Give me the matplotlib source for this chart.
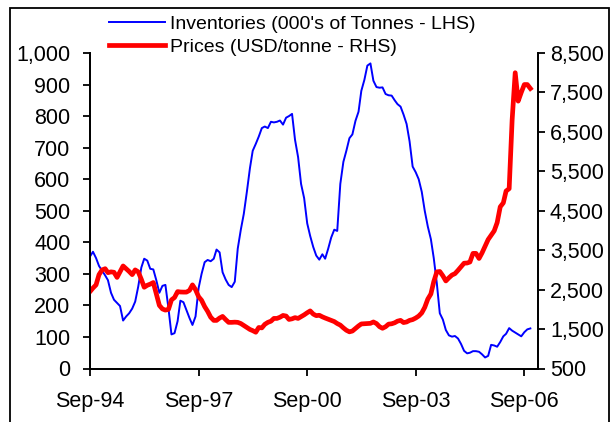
import pandas as pd
import matplotlib
matplotlib.use("Agg")
import matplotlib.pyplot as plt
import matplotlib.dates as mdates
from matplotlib.patches import Rectangle
from matplotlib.ticker import FuncFormatter, FixedLocator

# monthly, Sep-94 .. Nov-06
months = pd.date_range("1994-09-01", periods=147, freq="MS")

# inventories, 000's of tonnes (LHS)
inventories = [
    355, 370, 350, 325, 310, 295, 280, 240, 218, 208, 198, 152,
    165, 175, 190, 212, 260, 320, 348, 342, 316, 314, 280, 240,
    262, 265, 190, 108, 112, 150, 215, 210, 185, 160, 138, 165,
    255, 300, 337, 344, 340, 348, 377, 368, 305, 282, 265, 258,
    275, 380, 440, 490, 560, 635, 690, 712, 735, 762, 767, 762,
    782, 780, 782, 786, 773, 795, 800, 807, 725, 670, 585, 540,
    460, 420, 385, 358, 345, 362, 348, 380, 415, 440, 436, 585,
    655, 690, 730, 742, 785, 814, 880, 915, 960, 967, 912, 892,
    890, 891, 870, 866, 865, 850, 838, 830, 805, 775, 720, 640,
    622, 600, 560, 500, 450, 410, 350, 270, 175, 155, 122, 105,
    101, 103, 95, 78, 56, 48, 50, 55, 55, 53, 45, 35,
    40, 75, 73, 69, 84, 102, 110, 128, 120, 114, 108, 102,
    115, 124, 127,
]

# prices, USD/tonne (RHS)
prices = [
    2450, 2540, 2620, 2880, 3000, 3030, 2930, 2950, 2940, 2810, 2950, 3100,
    3030, 2960, 2880, 3000, 2950, 2760, 2560, 2610, 2640, 2680, 2400, 2100,
    2010, 1980, 2000, 2240, 2300, 2450, 2440, 2437, 2437, 2480, 2620, 2500,
    2320, 2230, 2070, 1950, 1800, 1720, 1720, 1780, 1820, 1740, 1670, 1670,
    1675, 1670, 1640, 1590, 1540, 1490, 1460, 1420, 1540, 1530, 1620, 1670,
    1700, 1770, 1770, 1800, 1845, 1830, 1744, 1760, 1790, 1770, 1815, 1860,
    1914, 1960, 1880, 1840, 1850, 1810, 1780, 1750, 1720, 1690, 1640, 1600,
    1530, 1470, 1430, 1450, 1515, 1580, 1630, 1634, 1640, 1645, 1680, 1640,
    1560, 1520, 1560, 1625, 1634, 1660, 1700, 1720, 1665, 1680, 1720, 1740,
    1780, 1830, 1910, 2050, 2260, 2390, 2700, 2950, 2960, 2850, 2720, 2800,
    2870, 2905, 2990, 3080, 3170, 3175, 3200, 3419, 3419, 3290, 3430, 3600,
    3770, 3880, 3990, 4200, 4600, 4700, 5000, 5060, 6800, 8000, 7280, 7500,
    7700, 7700, 7600,
]

left_ticks = list(range(0, 1001, 100))
right_ticks = list(range(500, 8501, 1000))
x_ticks = pd.to_datetime(["1994-09-01", "1997-09-01", "2000-09-01",
                          "2003-09-01", "2006-09-01"])

plt.rcParams["font.family"] = ["Liberation Sans", "DejaVu Sans"]

W, H = 613, 422
fig = plt.figure(figsize=(W / 100, H / 100), dpi=100)
ax = fig.add_axes([90 / W, 1 - 368.5 / H, 447.5 / W, 315.5 / H])
ax2 = ax.twinx()

l1, = ax.plot(months, inventories, color="#0000FF", lw=1.4,
              label="Inventories (000's of Tonnes - LHS)")
l2, = ax2.plot(months, prices, color="#FF0000", lw=3.4,
               label="Prices (USD/tonne - RHS)")

ax.set_xlim(pd.Timestamp("1994-09-01"), pd.Timestamp("2007-01-12"))
ax.set_ylim(0, 1000)
ax2.set_ylim(500, 8500)

ax.xaxis.set_major_locator(FixedLocator(mdates.date2num(x_ticks)))
ax.xaxis.set_major_formatter(mdates.DateFormatter("%b-%y"))
ax.set_yticks(left_ticks)
ax2.set_yticks(right_ticks)
thousands = FuncFormatter(lambda v, p: f"{int(v):,}")
ax.yaxis.set_major_formatter(thousands)
ax2.yaxis.set_major_formatter(thousands)

for a in (ax, ax2):
    a.spines["top"].set_visible(False)
    for s in a.spines.values():
        s.set_linewidth(1.3)
    a.tick_params(direction="out", length=5, width=1.3, labelsize=15.5)
ax.tick_params(axis="y", pad=9)
ax.tick_params(axis="x", pad=11)
ax2.tick_params(axis="y", pad=4)

ax.legend(handles=[l1, l2], loc="center left", frameon=False, fontsize=14,
          bbox_to_anchor=(109 / W, 1 - 35.5 / H), bbox_transform=fig.transFigure,
          handlelength=2.9, handletextpad=0.25, labelspacing=0.3,
          borderpad=0, borderaxespad=0)

fig.patches.append(Rectangle((10 / W, -0.1), 599 / W, 1.1 - 8 / H, fill=False,
                             lw=1.3, edgecolor="black",
                             transform=fig.transFigure, clip_on=False))

fig.savefig("out.png", dpi=100)
